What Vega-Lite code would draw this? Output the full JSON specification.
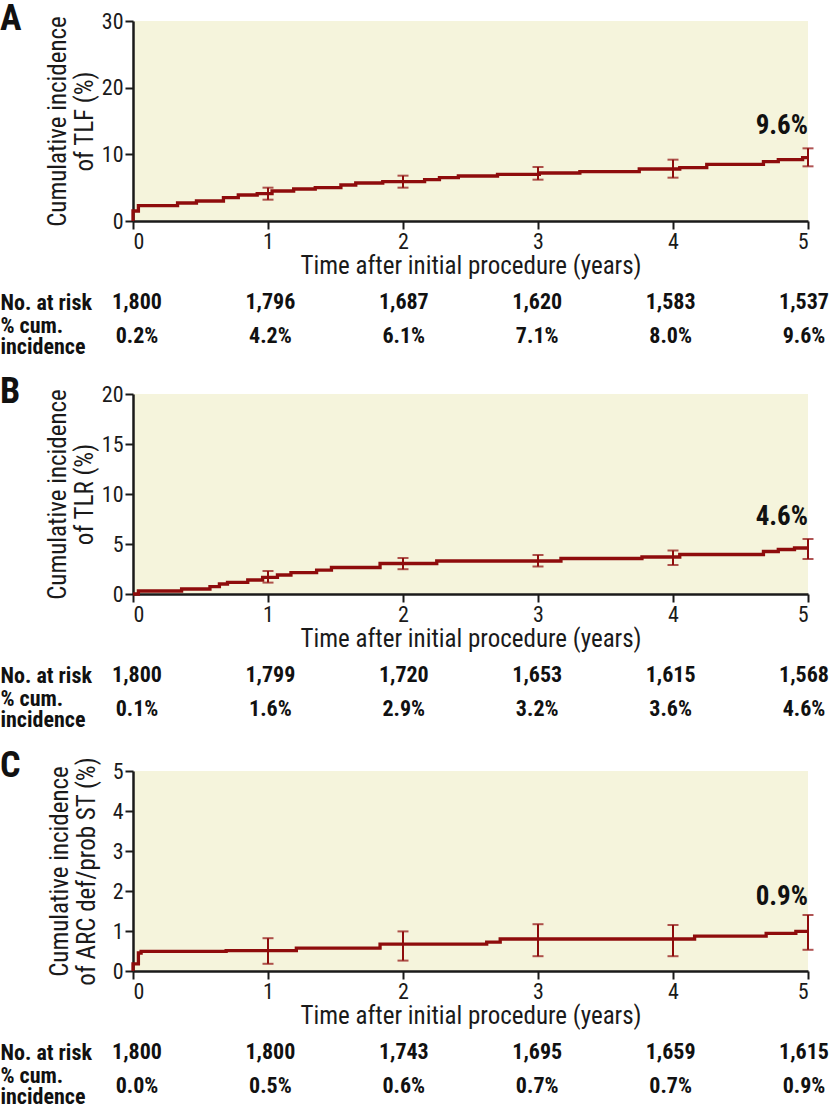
{
  "$schema": "https://vega.github.io/schema/vega-lite/v6.json",
  "padding": {"left": 0, "right": 0, "top": 1, "bottom": 0},
  "spacing": 17,
  "datasets": {
    "stepA": [
      {"t": 0, "v": 0}, {"t": 0, "v": 1.5}, {"t": 0.04, "v": 2.3}, {"t": 0.33, "v": 2.7}, {"t": 0.47, "v": 3.0},
      {"t": 0.67, "v": 3.5}, {"t": 0.78, "v": 3.9}, {"t": 0.92, "v": 4.1}, {"t": 1.03, "v": 4.5}, {"t": 1.19, "v": 4.8},
      {"t": 1.35, "v": 5.0}, {"t": 1.54, "v": 5.4}, {"t": 1.65, "v": 5.7}, {"t": 1.85, "v": 5.9}, {"t": 2.16, "v": 6.2},
      {"t": 2.27, "v": 6.5}, {"t": 2.41, "v": 6.75}, {"t": 2.7, "v": 7.0}, {"t": 3.01, "v": 7.2}, {"t": 3.31, "v": 7.4},
      {"t": 3.75, "v": 7.8}, {"t": 4.05, "v": 8.0}, {"t": 4.25, "v": 8.5}, {"t": 4.67, "v": 8.9}, {"t": 4.78, "v": 9.2},
      {"t": 4.96, "v": 9.5}, {"t": 5, "v": 9.5}
    ],
    "errA": [
      {"t": 1, "lo": 3.2, "hi": 5.0}, {"t": 2, "lo": 5.0, "hi": 6.8}, {"t": 3, "lo": 6.2, "hi": 8.1},
      {"t": 4, "lo": 6.5, "hi": 9.2}, {"t": 5, "lo": 8.2, "hi": 10.9}
    ],
    "labA": [{"t": 5, "v": 10.9, "label": "9.6%"}],
    "tabA": [
      {"row": "No. at risk", "t": 0, "v": "1,800"}, {"row": "No. at risk", "t": 1, "v": "1,796"},
      {"row": "No. at risk", "t": 2, "v": "1,687"}, {"row": "No. at risk", "t": 3, "v": "1,620"},
      {"row": "No. at risk", "t": 4, "v": "1,583"}, {"row": "No. at risk", "t": 5, "v": "1,537"},
      {"row": "% cum. incidence", "t": 0, "v": "0.2%"}, {"row": "% cum. incidence", "t": 1, "v": "4.2%"},
      {"row": "% cum. incidence", "t": 2, "v": "6.1%"}, {"row": "% cum. incidence", "t": 3, "v": "7.1%"},
      {"row": "% cum. incidence", "t": 4, "v": "8.0%"}, {"row": "% cum. incidence", "t": 5, "v": "9.6%"}
    ],
    "stepB": [
      {"t": 0, "v": 0}, {"t": 0.04, "v": 0.3}, {"t": 0.36, "v": 0.5}, {"t": 0.57, "v": 0.74}, {"t": 0.64, "v": 1.0},
      {"t": 0.7, "v": 1.17}, {"t": 0.85, "v": 1.4}, {"t": 0.96, "v": 1.67}, {"t": 1.07, "v": 1.9}, {"t": 1.17, "v": 2.14},
      {"t": 1.36, "v": 2.38}, {"t": 1.47, "v": 2.65}, {"t": 1.83, "v": 3.05}, {"t": 2.25, "v": 3.3}, {"t": 3.17, "v": 3.55},
      {"t": 3.77, "v": 3.7}, {"t": 4.05, "v": 3.95}, {"t": 4.67, "v": 4.25}, {"t": 4.78, "v": 4.45}, {"t": 4.9, "v": 4.6},
      {"t": 5, "v": 4.6}
    ],
    "errB": [
      {"t": 1, "lo": 1.14, "hi": 2.3}, {"t": 2, "lo": 2.48, "hi": 3.6}, {"t": 3, "lo": 2.75, "hi": 3.9},
      {"t": 4, "lo": 2.9, "hi": 4.35}, {"t": 5, "lo": 3.5, "hi": 5.5}
    ],
    "labB": [{"t": 5, "v": 5.5, "label": "4.6%"}],
    "tabB": [
      {"row": "No. at risk", "t": 0, "v": "1,800"}, {"row": "No. at risk", "t": 1, "v": "1,799"},
      {"row": "No. at risk", "t": 2, "v": "1,720"}, {"row": "No. at risk", "t": 3, "v": "1,653"},
      {"row": "No. at risk", "t": 4, "v": "1,615"}, {"row": "No. at risk", "t": 5, "v": "1,568"},
      {"row": "% cum. incidence", "t": 0, "v": "0.1%"}, {"row": "% cum. incidence", "t": 1, "v": "1.6%"},
      {"row": "% cum. incidence", "t": 2, "v": "2.9%"}, {"row": "% cum. incidence", "t": 3, "v": "3.2%"},
      {"row": "% cum. incidence", "t": 4, "v": "3.6%"}, {"row": "% cum. incidence", "t": 5, "v": "4.6%"}
    ],
    "stepC": [
      {"t": 0, "v": 0}, {"t": 0, "v": 0.18}, {"t": 0.04, "v": 0.45}, {"t": 0.06, "v": 0.49}, {"t": 0.69, "v": 0.51},
      {"t": 1.21, "v": 0.57}, {"t": 1.83, "v": 0.67}, {"t": 2.62, "v": 0.72}, {"t": 2.72, "v": 0.8}, {"t": 4.16, "v": 0.87},
      {"t": 4.69, "v": 0.94}, {"t": 4.91, "v": 0.99}, {"t": 5, "v": 0.99}
    ],
    "errC": [
      {"t": 1, "lo": 0.18, "hi": 0.82}, {"t": 2, "lo": 0.26, "hi": 0.99}, {"t": 3, "lo": 0.37, "hi": 1.17},
      {"t": 4, "lo": 0.37, "hi": 1.15}, {"t": 5, "lo": 0.53, "hi": 1.4}
    ],
    "labC": [{"t": 5, "v": 1.4, "label": "0.9%"}],
    "tabC": [
      {"row": "No. at risk", "t": 0, "v": "1,800"}, {"row": "No. at risk", "t": 1, "v": "1,800"},
      {"row": "No. at risk", "t": 2, "v": "1,743"}, {"row": "No. at risk", "t": 3, "v": "1,695"},
      {"row": "No. at risk", "t": 4, "v": "1,659"}, {"row": "No. at risk", "t": 5, "v": "1,615"},
      {"row": "% cum. incidence", "t": 0, "v": "0.0%"}, {"row": "% cum. incidence", "t": 1, "v": "0.5%"},
      {"row": "% cum. incidence", "t": 2, "v": "0.6%"}, {"row": "% cum. incidence", "t": 3, "v": "0.7%"},
      {"row": "% cum. incidence", "t": 4, "v": "0.7%"}, {"row": "% cum. incidence", "t": 5, "v": "0.9%"}
    ]
  },
  "vconcat": [
    {
      "title": {"text": "A", "anchor": "start", "frame": "bounds", "offset": -56, "baseline": "alphabetic"},
      "spacing": 7,
      "vconcat": [
        {
          "width": 675, "height": 200,
          "view": {"fill": "#F5F4DC", "stroke": null},
          "layer": [
            {
              "data": {"name": "stepA"},
              "mark": {"type": "line", "interpolate": "step-after", "color": "#8e0c0c", "strokeWidth": 3.3},
              "encoding": {
                "x": {"field": "t", "type": "quantitative", "scale": {"domain": [0, 5], "nice": false},
                      "axis": {"values": [0, 1, 2, 3, 4, 5], "format": "d", "title": "Time after initial procedure (years)"}},
                "y": {"field": "v", "type": "quantitative", "scale": {"domain": [0, 30], "nice": false},
                      "axis": {"values": {"expr": "[0, 10, 20, 30]"}, "title": ["Cumulative incidence", "of TLF (%)"], "titlePadding": 4}}
              }
            },
            {
              "data": {"name": "errA"},
              "mark": {"type": "rule", "color": "#8e0c0c", "strokeWidth": 2},
              "encoding": {"x": {"field": "t", "type": "quantitative"}, "y": {"field": "lo", "type": "quantitative"}, "y2": {"field": "hi"}}
            },
            {
              "data": {"name": "errA"},
              "mark": {"type": "tick", "orient": "horizontal", "color": "#8e0c0c", "size": 11, "thickness": 2},
              "encoding": {"x": {"field": "t", "type": "quantitative"}, "y": {"field": "lo", "type": "quantitative"}}
            },
            {
              "data": {"name": "errA"},
              "mark": {"type": "tick", "orient": "horizontal", "color": "#8e0c0c", "size": 11, "thickness": 2},
              "encoding": {"x": {"field": "t", "type": "quantitative"}, "y": {"field": "hi", "type": "quantitative"}}
            },
            {
              "data": {"name": "labA"},
              "mark": {"type": "text", "align": "right", "baseline": "alphabetic", "dy": -14, "fontSize": 27, "fontWeight": "bold", "color": "#111"},
              "encoding": {"x": {"field": "t", "type": "quantitative"}, "y": {"field": "v", "type": "quantitative"}, "text": {"field": "label"}}
            }
          ]
        },
        {
          "width": 675, "height": 68,
          "data": {"name": "tabA"},
          "mark": {"type": "text", "fontSize": 22, "fontWeight": "bold", "color": "#111", "baseline": "middle"},
          "encoding": {
            "x": {"field": "t", "type": "quantitative", "scale": {"domain": [-0.03, 5.03], "nice": false, "zero": false}, "axis": null},
            "y": {"field": "row", "type": "nominal", "sort": ["No. at risk", "% cum. incidence"],
                  "axis": {"title": null, "domain": false, "ticks": false, "tickSize": 0, "labelAlign": "left", "labelPadding": 133,
                           "labelFontSize": 22, "labelFontWeight": "bold", "labelColor": "#111", "labelLineHeight": 21, "labelBaseline": "middle", "labelLimit": 200,
                           "labelOffset": {"condition": {"test": "datum.value == '% cum. incidence'", "value": -11}, "value": 0},
                           "labelExpr": "datum.value == '% cum. incidence' ? ['% cum.', 'incidence'] : datum.value"}},
            "text": {"field": "v"}
          }
        }
      ]
    },
    {
      "title": {"text": "B", "anchor": "start", "frame": "bounds", "offset": -56, "baseline": "alphabetic"},
      "spacing": 7,
      "vconcat": [
        {
          "width": 675, "height": 200,
          "view": {"fill": "#F5F4DC", "stroke": null},
          "layer": [
            {
              "data": {"name": "stepB"},
              "mark": {"type": "line", "interpolate": "step-after", "color": "#8e0c0c", "strokeWidth": 3.3},
              "encoding": {
                "x": {"field": "t", "type": "quantitative", "scale": {"domain": [0, 5], "nice": false},
                      "axis": {"values": [0, 1, 2, 3, 4, 5], "format": "d", "title": "Time after initial procedure (years)"}},
                "y": {"field": "v", "type": "quantitative", "scale": {"domain": [0, 20], "nice": false},
                      "axis": {"values": {"expr": "[0, 5, 10, 15, 20]"}, "title": ["Cumulative incidence", "of TLR (%)"], "titlePadding": 4}}
              }
            },
            {
              "data": {"name": "errB"},
              "mark": {"type": "rule", "color": "#8e0c0c", "strokeWidth": 2},
              "encoding": {"x": {"field": "t", "type": "quantitative"}, "y": {"field": "lo", "type": "quantitative"}, "y2": {"field": "hi"}}
            },
            {
              "data": {"name": "errB"},
              "mark": {"type": "tick", "orient": "horizontal", "color": "#8e0c0c", "size": 11, "thickness": 2},
              "encoding": {"x": {"field": "t", "type": "quantitative"}, "y": {"field": "lo", "type": "quantitative"}}
            },
            {
              "data": {"name": "errB"},
              "mark": {"type": "tick", "orient": "horizontal", "color": "#8e0c0c", "size": 11, "thickness": 2},
              "encoding": {"x": {"field": "t", "type": "quantitative"}, "y": {"field": "hi", "type": "quantitative"}}
            },
            {
              "data": {"name": "labB"},
              "mark": {"type": "text", "align": "right", "baseline": "alphabetic", "dy": -14, "fontSize": 27, "fontWeight": "bold", "color": "#111"},
              "encoding": {"x": {"field": "t", "type": "quantitative"}, "y": {"field": "v", "type": "quantitative"}, "text": {"field": "label"}}
            }
          ]
        },
        {
          "width": 675, "height": 68,
          "data": {"name": "tabB"},
          "mark": {"type": "text", "fontSize": 22, "fontWeight": "bold", "color": "#111", "baseline": "middle"},
          "encoding": {
            "x": {"field": "t", "type": "quantitative", "scale": {"domain": [-0.03, 5.03], "nice": false, "zero": false}, "axis": null},
            "y": {"field": "row", "type": "nominal", "sort": ["No. at risk", "% cum. incidence"],
                  "axis": {"title": null, "domain": false, "ticks": false, "tickSize": 0, "labelAlign": "left", "labelPadding": 133,
                           "labelFontSize": 22, "labelFontWeight": "bold", "labelColor": "#111", "labelLineHeight": 21, "labelBaseline": "middle", "labelLimit": 200,
                           "labelOffset": {"condition": {"test": "datum.value == '% cum. incidence'", "value": -11}, "value": 0},
                           "labelExpr": "datum.value == '% cum. incidence' ? ['% cum.', 'incidence'] : datum.value"}},
            "text": {"field": "v"}
          }
        }
      ]
    },
    {
      "title": {"text": "C", "anchor": "start", "frame": "bounds", "offset": -56, "baseline": "alphabetic"},
      "spacing": 7,
      "vconcat": [
        {
          "width": 675, "height": 200,
          "view": {"fill": "#F5F4DC", "stroke": null},
          "layer": [
            {
              "data": {"name": "stepC"},
              "mark": {"type": "line", "interpolate": "step-after", "color": "#8e0c0c", "strokeWidth": 3.3},
              "encoding": {
                "x": {"field": "t", "type": "quantitative", "scale": {"domain": [0, 5], "nice": false},
                      "axis": {"values": [0, 1, 2, 3, 4, 5], "format": "d", "title": "Time after initial procedure (years)"}},
                "y": {"field": "v", "type": "quantitative", "scale": {"domain": [0, 5], "nice": false},
                      "axis": {"values": {"expr": "[0, 1, 2, 3, 4, 5]"}, "tickCount": 6, "labelOverlap": false, "title": ["Cumulative incidence", "of ARC def/prob ST (%)"], "titlePadding": 13}}
              }
            },
            {
              "data": {"name": "errC"},
              "mark": {"type": "rule", "color": "#8e0c0c", "strokeWidth": 2},
              "encoding": {"x": {"field": "t", "type": "quantitative"}, "y": {"field": "lo", "type": "quantitative"}, "y2": {"field": "hi"}}
            },
            {
              "data": {"name": "errC"},
              "mark": {"type": "tick", "orient": "horizontal", "color": "#8e0c0c", "size": 11, "thickness": 2},
              "encoding": {"x": {"field": "t", "type": "quantitative"}, "y": {"field": "lo", "type": "quantitative"}}
            },
            {
              "data": {"name": "errC"},
              "mark": {"type": "tick", "orient": "horizontal", "color": "#8e0c0c", "size": 11, "thickness": 2},
              "encoding": {"x": {"field": "t", "type": "quantitative"}, "y": {"field": "hi", "type": "quantitative"}}
            },
            {
              "data": {"name": "labC"},
              "mark": {"type": "text", "align": "right", "baseline": "alphabetic", "dy": -10, "fontSize": 27, "fontWeight": "bold", "color": "#111"},
              "encoding": {"x": {"field": "t", "type": "quantitative"}, "y": {"field": "v", "type": "quantitative"}, "text": {"field": "label"}}
            }
          ]
        },
        {
          "width": 675, "height": 68,
          "data": {"name": "tabC"},
          "mark": {"type": "text", "fontSize": 22, "fontWeight": "bold", "color": "#111", "baseline": "middle"},
          "encoding": {
            "x": {"field": "t", "type": "quantitative", "scale": {"domain": [-0.03, 5.03], "nice": false, "zero": false}, "axis": null},
            "y": {"field": "row", "type": "nominal", "sort": ["No. at risk", "% cum. incidence"],
                  "axis": {"title": null, "domain": false, "ticks": false, "tickSize": 0, "labelAlign": "left", "labelPadding": 133,
                           "labelFontSize": 22, "labelFontWeight": "bold", "labelColor": "#111", "labelLineHeight": 21, "labelBaseline": "middle", "labelLimit": 200,
                           "labelOffset": {"condition": {"test": "datum.value == '% cum. incidence'", "value": -11}, "value": 0},
                           "labelExpr": "datum.value == '% cum. incidence' ? ['% cum.', 'incidence'] : datum.value"}},
            "text": {"field": "v"}
          }
        }
      ]
    }
  ],
  "config": {
    "font": "Roboto Condensed, DejaVu Sans Condensed, sans-serif",
    "view": {"stroke": null},
    "text": {"font": "Roboto Condensed, DejaVu Sans Condensed, sans-serif"},
    "title": {"font": "Roboto Condensed, DejaVu Sans Condensed, sans-serif", "fontSize": 36, "fontWeight": "bold", "color": "#111"},
    "axis": {
      "grid": false,
      "labelOverlap": false,
      "labelFont": "Roboto Condensed, DejaVu Sans Condensed, sans-serif", "titleFont": "Roboto Condensed, DejaVu Sans Condensed, sans-serif",
      "domainColor": "#1a1a1a", "domainWidth": 2.5,
      "tickColor": "#1a1a1a", "tickWidth": 2, "tickSize": 8,
      "labelFontSize": 22, "labelColor": "#1a1a1a", "labelPadding": 2,
      "titleFontSize": 25, "titleFontWeight": "normal", "titleColor": "#1a1a1a", "titleLineHeight": 27, "titlePadding": 1
    }
  }
}
